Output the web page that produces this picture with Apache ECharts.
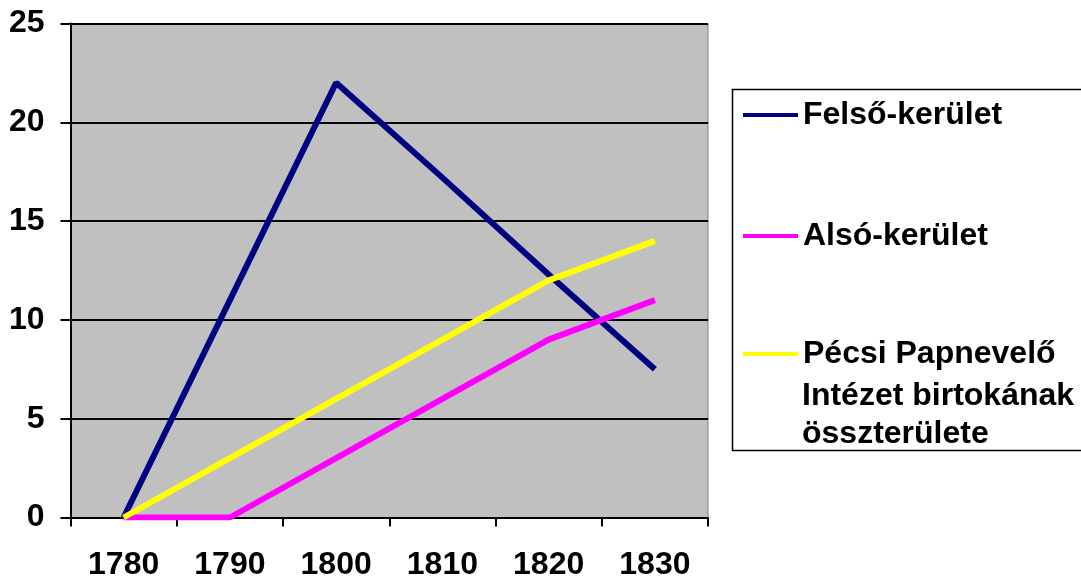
<!DOCTYPE html>
<html>
<head>
<meta charset="utf-8">
<script src="https://cdn.jsdelivr.net/npm/echarts@6/dist/echarts.min.js"></script>
<style>
html,body{margin:0;padding:0;background:#fff;}
#c{width:1081px;height:578px;}
</style>
</head>
<body>
<div id="c"></div>
<script>
const years = ['1780', '1790', '1800', '1810', '1820', '1830'];
const felso = [0, 11, 22, 17.2, 12.3, 7.5];
const also = [0, 0, 3, 6, 9, 11];
const pecsi = [0, 3, 6, 9, 12, 14];
const seriesNames = ['Felső-kerület', 'Alsó-kerület', 'Pécsi Papnevelő Intézet birtokának összterülete'];
const legendLines = ['Pécsi Papnevelő', 'Intézet birtokának', 'összterülete'];
const colors = ['#000080', '#FF00FF', '#FFFF00'];

const FONT = '"Liberation Sans", Arial, sans-serif';
const FS = 32;
const chart = echarts.init(document.getElementById('c'));

function legendFor(i, top, extra) {
  return Object.assign({
    data: [seriesNames[i]],
    left: 743,
    top: top,
    padding: 0,
    itemWidth: 55,
    itemHeight: 4,
    icon: 'rect',
    selectedMode: false,
    textStyle: {
      fontFamily: FONT, fontWeight: 'bold', fontSize: FS, color: '#000', lineHeight: 32
    }
  }, extra || {});
}

chart.setOption({
  animation: false,
  color: colors,
  grid: {
    left: 70.5, right: 373, top: 23.5, bottom: 60.5,
    containLabel: false, outerBoundsMode: 'none',
    show: true, backgroundColor: '#C0C0C0', borderColor: '#808080', borderWidth: 1
  },
  xAxis: {
    type: 'category',
    data: years,
    boundaryGap: true,
    axisLine: { lineStyle: { color: '#000', width: 2 } },
    axisTick: { show: true, length: 9, interval: 0, alignWithLabel: false, lineStyle: { color: '#000', width: 2 } },
    axisLabel: { margin: 32, fontFamily: FONT, fontWeight: 'bold', fontSize: FS, color: '#000', interval: 0 },
    splitLine: { show: false }
  },
  yAxis: {
    type: 'value',
    min: 0, max: 25, interval: 5,
    axisLine: { show: true, lineStyle: { color: '#000', width: 2 } },
    axisTick: { show: true, length: 10, lineStyle: { color: '#000', width: 2 } },
    axisLabel: { margin: 26, fontFamily: FONT, fontWeight: 'bold', fontSize: FS, color: '#000' },
    splitLine: { show: true, lineStyle: { color: '#000', width: 2 } }
  },
  legend: [
    legendFor(0, 99),
    legendFor(1, 220),
    legendFor(2, 338, {
      formatter: function () { return legendLines[0]; }
    })
  ],
  graphic: [{
    type: 'rect',
    shape: { x: 732.5, y: 89.5, width: 400, height: 361 },
    style: { fill: 'none', stroke: '#000', lineWidth: 1.5 },
    silent: true
  }, {
    type: 'text',
    left: 802, top: 377,
    silent: true,
    style: {
      text: legendLines[1] + '\n' + legendLines[2],
      fontFamily: FONT, fontWeight: 'bold', fontSize: FS, lineHeight: 38, fill: '#000'
    }
  }],
  series: [
    { name: seriesNames[0], type: 'line', data: felso, showSymbol: false, symbol: 'none', lineStyle: { color: colors[0], width: 6 }, itemStyle: { color: colors[0] } },
    { name: seriesNames[1], type: 'line', data: also, showSymbol: false, symbol: 'none', lineStyle: { color: colors[1], width: 6 }, itemStyle: { color: colors[1] } },
    { name: seriesNames[2], type: 'line', data: pecsi, showSymbol: false, symbol: 'none', lineStyle: { color: colors[2], width: 6 }, itemStyle: { color: colors[2] } }
  ]
});
</script>
</body>
</html>
